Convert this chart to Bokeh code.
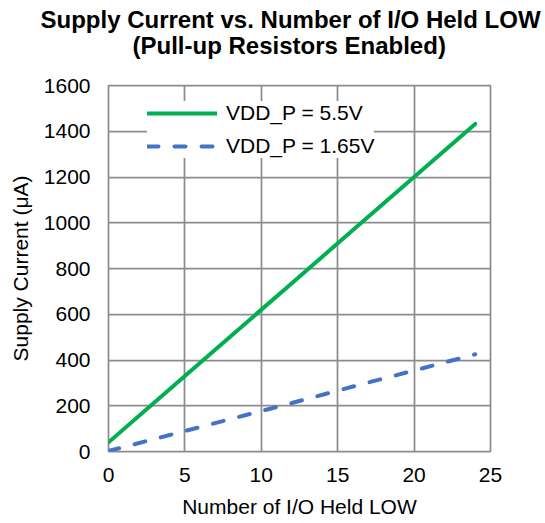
from bokeh.plotting import figure
from bokeh.models import Range1d, SingleIntervalTicker, Title, Legend, LegendItem
from bokeh.embed import file_html
from bokeh.resources import INLINE

# Data
io_low = [0, 4, 8, 12, 16, 20, 24]
current_5v5 = [40, 272, 504, 736, 968, 1200, 1432]
current_1v65 = [2, 72, 142, 212, 284, 354, 425]
series_labels = ["VDD_P = 5.5V", "VDD_P = 1.65V"]
title_lines = ["Supply Current vs. Number of I/O Held LOW", "(Pull-up Resistors Enabled)"]
x_label = "Number of I/O Held LOW"
y_label = "Supply Current (\u03bcA)"

FONT = "Liberation Sans"
GRID = "#8C8C8C"

p = figure(width=545, height=523, output_backend="svg", toolbar_location=None,
           x_range=Range1d(0, 25), y_range=Range1d(0, 1600),
           min_border_left=108, min_border_right=55,
           min_border_top=85, min_border_bottom=72)

# two-line title (line 2 added first so it sits next to the frame)
t2 = Title(text=title_lines[1], align="left", offset=24, text_font=FONT,
           text_font_size="24px", text_font_style="bold", text_color="black", standoff=54)
t1 = Title(text=title_lines[0], align="left", offset=-68, text_font=FONT,
           text_font_size="24px", text_font_style="bold", text_color="black", standoff=-60)
p.add_layout(t2, "above")
p.add_layout(t1, "above")

l1 = p.line(io_low, current_5v5, line_color="#00B050", line_width=4, line_cap="round")
l2 = p.line(io_low, current_1v65, line_color="#4472C4", line_width=4, line_cap="round",
            line_dash="11 16")

legend = Legend(items=[LegendItem(label=series_labels[0], renderers=[l1]),
                       LegendItem(label=series_labels[1], renderers=[l2])],
                location=(39, 293), glyph_width=70, glyph_height=24, label_height=24,
                spacing=9, padding=8, label_standoff=9,
                label_text_font=FONT, label_text_font_size="21px", label_text_color="black",
                border_line_color=None, background_fill_color="white", background_fill_alpha=1.0)
p.add_layout(legend, "center")

for ax in (p.xaxis[0], p.yaxis[0]):
    ax.axis_line_color = None
    ax.major_tick_line_color = None
    ax.minor_tick_line_color = None
    ax.major_tick_in = 0
    ax.major_tick_out = 0
    ax.minor_tick_out = 0
    ax.major_label_text_font = FONT
    ax.major_label_text_font_size = "21px"
    ax.major_label_text_color = "black"
    ax.axis_label_text_font = FONT
    ax.axis_label_text_font_size = "21px"
    ax.axis_label_text_font_style = "normal"
    ax.axis_label_text_color = "black"

p.xaxis.ticker = SingleIntervalTicker(interval=5)
p.yaxis.ticker = SingleIntervalTicker(interval=200)
p.xaxis.axis_label = x_label
p.yaxis.axis_label = y_label
p.xaxis.major_label_standoff = 16
p.xaxis.axis_label_standoff = 10
p.yaxis.major_label_standoff = 18
p.yaxis.axis_label_standoff = 9

p.xgrid.grid_line_color = GRID
p.ygrid.grid_line_color = GRID
p.xgrid.grid_line_width = 1.75
p.ygrid.grid_line_width = 1.75
p.outline_line_color = GRID
p.outline_line_width = 1.75
p.outline_line_alpha = 1.0
p.background_fill_color = "white"
p.border_fill_color = "white"

open("out.html", "w").write(file_html(p, INLINE))
